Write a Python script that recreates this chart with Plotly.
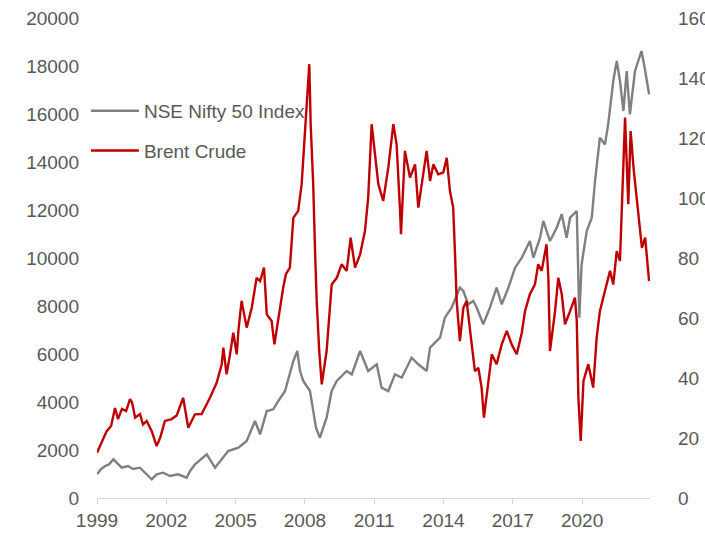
import plotly.graph_objects as go

# ---- data (decimal year, value) ----
nifty_t = [1999.00, 1999.17, 1999.35, 1999.52, 1999.71, 1999.87, 2000.07, 2000.34, 2000.56,
           2000.86, 2001.15, 2001.37, 2001.58, 2001.86, 2002.16, 2002.51, 2002.88, 2003.03,
           2003.24, 2003.75, 2004.11, 2004.68, 2005.12, 2005.48, 2005.84, 2006.06, 2006.35,
           2006.63, 2006.85, 2007.14, 2007.50, 2007.67, 2007.79, 2007.93, 2008.22, 2008.36,
           2008.48, 2008.65, 2008.94, 2009.16, 2009.38, 2009.81, 2010.03, 2010.39, 2010.74,
           2011.11, 2011.32, 2011.61, 2011.90, 2012.19, 2012.62, 2012.91, 2013.27, 2013.42,
           2013.85, 2014.06, 2014.35, 2014.71, 2014.86, 2015.07, 2015.29, 2015.44, 2015.72,
           2016.01, 2016.30, 2016.52, 2016.81, 2017.10, 2017.39, 2017.74, 2017.89, 2018.18,
           2018.32, 2018.61, 2018.90, 2019.12, 2019.33, 2019.48, 2019.77, 2019.88, 2019.98,
           2020.20, 2020.42, 2020.56, 2020.77, 2020.99, 2021.13, 2021.35, 2021.50, 2021.64,
           2021.79, 2021.93, 2022.07, 2022.29, 2022.57, 2022.71, 2022.90]
nifty_v = [986, 1200, 1333, 1400, 1612, 1450, 1263, 1333, 1208,
           1263, 986, 778, 986, 1055, 917, 986, 847, 1125,
           1404, 1821, 1263, 1958, 2096, 2375, 3208, 2654, 3625,
           3696, 4042, 4458, 5708, 6125, 5292, 4875, 4458, 3625,
           2929, 2512, 3346, 4458, 4875, 5292, 5154, 6125, 5292,
           5571, 4596, 4458, 5154, 5013, 5846, 5571, 5292, 6263,
           6679, 7513, 7929, 8763, 8625, 8071, 8208, 7929, 7238,
           7929, 8763, 8071, 8763, 9596, 10013, 10708, 10013, 10846,
           11542, 10708, 11263, 11821, 10846, 11679, 11958, 7513, 9738,
           11125, 11679, 13208, 15013, 14733, 15571, 17375, 18208, 17375,
           16125, 17792, 15988, 17792, 18625, 17929, 16821]

brent_t = [1999.00, 1999.13, 1999.42, 1999.61, 1999.78, 1999.91, 2000.08, 2000.26, 2000.43,
           2000.52, 2000.65, 2000.86, 2000.99, 2001.15, 2001.37, 2001.58, 2001.73, 2001.94,
           2002.23, 2002.45, 2002.73, 2002.95, 2003.24, 2003.53, 2003.89, 2004.18, 2004.40,
           2004.47, 2004.61, 2004.76, 2004.90, 2005.05, 2005.12, 2005.26, 2005.48, 2005.70,
           2005.91, 2006.06, 2006.23, 2006.35, 2006.56, 2006.68, 2006.85, 2007.06, 2007.18,
           2007.35, 2007.50, 2007.71, 2007.86, 2008.00, 2008.15, 2008.19, 2008.25, 2008.36,
           2008.44, 2008.51, 2008.62, 2008.73, 2008.94, 2009.16, 2009.38, 2009.59, 2009.81,
           2009.98, 2010.17, 2010.39, 2010.60, 2010.74, 2010.89, 2011.03, 2011.18, 2011.39,
           2011.61, 2011.83, 2011.97, 2012.12, 2012.16, 2012.33, 2012.55, 2012.77, 2012.91,
           2013.27, 2013.42, 2013.56, 2013.77, 2013.99, 2014.14, 2014.28, 2014.42, 2014.50,
           2014.57, 2014.71, 2014.86, 2015.00, 2015.15, 2015.29, 2015.36, 2015.51, 2015.65,
           2015.75, 2015.94, 2016.09, 2016.30, 2016.52, 2016.74, 2016.95, 2017.17, 2017.39,
           2017.53, 2017.74, 2017.96, 2018.10, 2018.25, 2018.46, 2018.54, 2018.61, 2018.83,
           2018.97, 2019.12, 2019.26, 2019.48, 2019.69, 2019.77, 2019.84, 2019.94, 2020.06,
           2020.27, 2020.48, 2020.63, 2020.77, 2020.99, 2021.21, 2021.35, 2021.50, 2021.64,
           2021.71, 2021.86, 2022.00, 2022.10, 2022.24, 2022.45, 2022.59, 2022.73, 2022.90]
brent_v = [15.1, 17.5, 22.3, 24.0, 30.0, 26.3, 29.7, 29.0, 33.0,
           31.8, 26.8, 28.0, 24.5, 25.7, 22.3, 17.3, 20.0, 25.7,
           26.3, 27.5, 33.4, 23.4, 27.9, 28.0, 33.4, 38.4, 44.6,
           50.1, 41.2, 47.9, 55.1, 47.9, 55.7, 65.7, 56.8, 63.4,
           73.4, 72.3, 76.8, 61.2, 59.0, 51.2, 60.1, 70.1, 74.6,
           76.8, 93.4, 95.7, 104.6, 121.2, 137.9, 144.6, 124.6, 104.6,
           82.3, 65.7, 49.0, 37.9, 49.0, 71.2, 73.4, 77.9, 75.7,
           86.8, 76.8, 81.2, 89.0, 100.1, 124.6, 115.7, 104.6, 99.0,
           110.1, 124.6, 117.9, 95.7, 87.9, 115.7, 106.8, 111.2, 96.8,
           115.7, 105.7, 111.2, 107.9, 108.5, 113.4, 102.3, 96.8, 81.2,
           65.7, 52.3, 63.4, 65.7, 55.7, 48.0, 42.3, 43.4, 36.8,
           26.8, 37.9, 47.9, 44.6, 51.2, 55.7, 51.2, 47.9, 55.1,
           62.3, 67.9, 71.2, 77.9, 75.7, 84.6, 73.4, 49.0, 62.3,
           73.4, 67.9, 57.9, 62.3, 66.8, 59.0, 33.4, 19.0, 39.0,
           44.6, 36.8, 53.4, 62.3, 69.0, 75.7, 71.2, 82.3, 79.0,
           93.4, 126.8, 97.9, 122.3, 109.0, 93.4, 83.4, 86.8, 72.3]

year_ticks = [1999, 2002, 2005, 2008, 2011, 2014, 2017, 2020]
year_labels = [str(y) for y in year_ticks]
left_ticks = [0, 2000, 4000, 6000, 8000, 10000, 12000, 14000, 16000, 18000, 20000]
left_labels = [str(v) for v in left_ticks]
right_ticks = [0, 20, 40, 60, 80, 100, 120, 140, 160]
right_labels = [str(v) for v in right_ticks]

series_names = ["NSE Nifty 50 Index", "Brent Crude"]

TXT = "#595959"
FONT = "Liberation Sans"
FS = 19

fig = go.Figure()
fig.add_trace(go.Scatter(x=nifty_t, y=nifty_v, name=series_names[0], mode="lines",
                         line=dict(color="#808080", width=2.4), yaxis="y", legendgroup="a"))
fig.add_trace(go.Scatter(x=brent_t, y=brent_v, name=series_names[1], mode="lines",
                         line=dict(color="#C00000", width=2.4), yaxis="y2", legendgroup="b"))

fig.update_layout(
    width=705, height=539,
    margin=dict(l=97, r=55, t=18, b=41, autoexpand=False),
    paper_bgcolor="white", plot_bgcolor="white",
    font=dict(family=FONT, size=FS, color=TXT),
    showlegend=True,
    legend=dict(x=-0.02, y=0.846, xanchor="left", yanchor="top",
                bgcolor="rgba(0,0,0,0)", font=dict(size=FS, color=TXT),
                tracegroupgap=12, itemwidth=48),
    xaxis=dict(range=[1999, 2022.94], tickvals=year_ticks, ticktext=year_labels,
               automargin=False, ticklabeloverflow="allow",
               showgrid=False, zeroline=False, showline=True, linecolor="#D9D9D9",
               linewidth=1, ticks="outside", ticklen=5, tickcolor="#D9D9D9",
               tickfont=dict(size=FS, color=TXT)),
    yaxis=dict(range=[0, 20000], tickvals=left_ticks, ticktext=left_labels,
               automargin=False, ticklabeloverflow="allow",
               showgrid=False, zeroline=False, showline=False, ticks="",
               ticklabelstandoff=17, tickfont=dict(size=FS, color=TXT)),
    yaxis2=dict(range=[0, 160], tickvals=right_ticks, ticktext=right_labels,
                automargin=False, ticklabeloverflow="allow",
                overlaying="y", side="right", showgrid=False, zeroline=False,
                showline=False, ticks="", ticklabelstandoff=27,
                tickfont=dict(size=FS, color=TXT)),
)

# remove the default 8px page margin so the figure fills the window exactly
fig.write_html("out.html", config={"displayModeBar": False},
               post_script="document.body.style.margin='0';document.body.style.overflow='hidden';")
